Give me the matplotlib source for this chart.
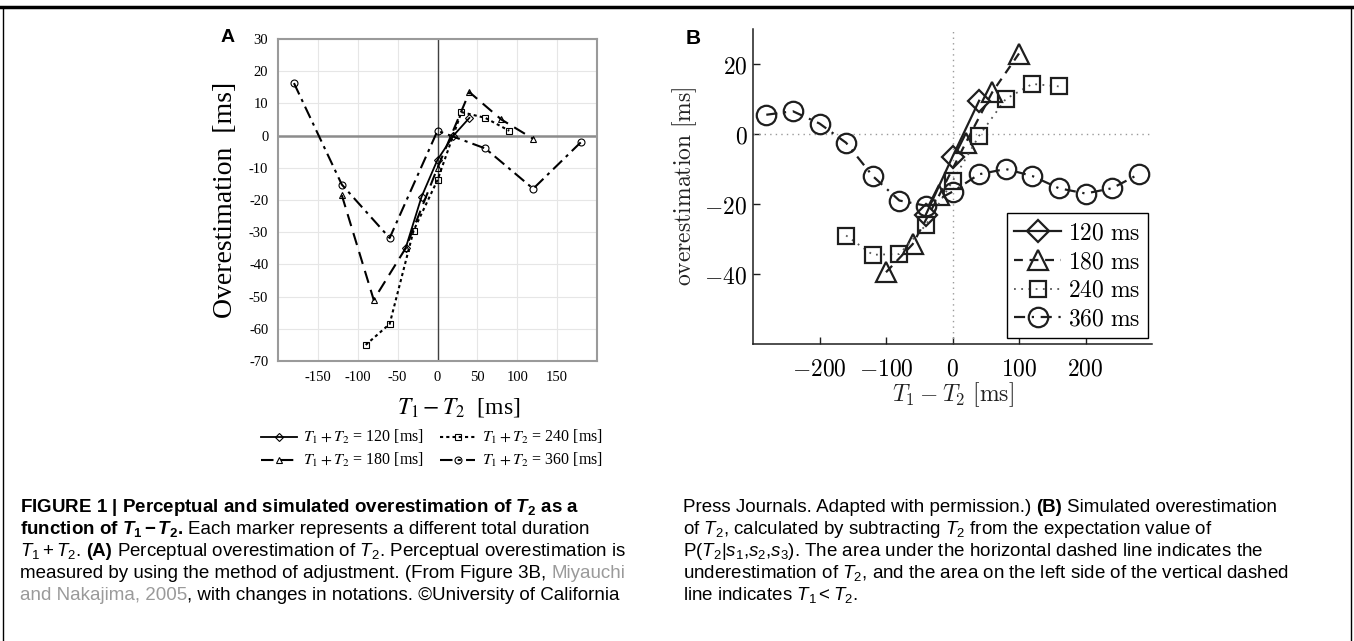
import matplotlib
matplotlib.use('Agg')
import matplotlib.pyplot as plt
from matplotlib.lines import Line2D

# ---- panel A data (perceptual) ----
a_x120 = [-40, -20, 0, 20, 40]
a_y120 = [-35, -19, -7.5, 0, 5.5]
a_x180 = [-120, -80, -40, 0, 40, 80, 120]
a_y180 = [-18.5, -51, -35, -10, 13.5, 5, -1]
a_x240 = [-90, -60, -30, 0, 30, 60, 90]
a_y240 = [-65, -58.5, -29.5, -13.8, 7.3, 5.5, 1.5]
a_x360 = [-180, -120, -60, 0, 60, 120, 180]
a_y360 = [16.3, -15.2, -31.8, 1.5, -4, -16.5, -2]
a_xticks = [-150, -100, -50, 0, 50, 100, 150]
a_xticklabels = ['-150', '-100', '-50', '0', '50', '100', '150']
a_yticks = [30, 20, 10, 0, -10, -20, -30, -40, -50, -60, -70]
a_yticklabels = ['30', '20', '10', '0', '-10', '-20', '-30', '-40', '-50', '-60', '-70']
a_labels = [r'$T_1 + T_2$ = 120 [ms]', r'$T_1 + T_2$ = 180 [ms]',
            r'$T_1 + T_2$ = 240 [ms]', r'$T_1 + T_2$ = 360 [ms]']

# ---- panel B data (simulated) ----
b_x120 = [-40, 0, 40]
b_y120 = [-23, -6.5, 9.5]
b_x180 = [-100, -60, -20, 20, 60, 100]
b_y180 = [-39.5, -31.5, -17.5, -2.5, 12, 23]
b_x240 = [-160, -120, -80, -40, 0, 40, 80, 120, 160]
b_y240 = [-29, -34.5, -34.3, -26, -13.5, -0.5, 10, 14.3, 13.6]
b_x360 = [-280, -240, -200, -160, -120, -80, -40, 0, 40, 80, 120, 160, 200, 240, 280]
b_y360 = [5.5, 6.5, 3, -2.5, -12, -19, -20.5, -16.5, -11.5, -10, -12, -15.5, -17, -15.5, -11.5]
b_xticks = [-200, -100, 0, 100, 200]
b_yticks = [-40, -20, 0, 20]
b_labels = [r'$120\ \mathrm{ms}$', r'$180\ \mathrm{ms}$', r'$240\ \mathrm{ms}$', r'$360\ \mathrm{ms}$']

CAP = ['Liberation Sans', 'DejaVu Sans']
plt.rcParams['mathtext.fontset'] = 'cm'
plt.rcParams['mathtext.rm'] = 'Liberation Sans'
plt.rcParams['mathtext.it'] = 'Liberation Sans:italic'
plt.rcParams['mathtext.bf'] = 'Liberation Sans:bold'
plt.rcParams['mathtext.bfit'] = 'Liberation Sans:italic:bold'

W, H = 1354, 641
fig = plt.figure(figsize=(W / 100, H / 100), dpi=100)


def fx(px):
    return px / W


def fy(py):
    return 1 - py / H


# frame around the figure
fig.add_artist(Line2D([0.0, 1.0], [fy(7), fy(7)], color='black', lw=2.5, transform=fig.transFigure))
fig.add_artist(Line2D([fx(3), fx(3)], [0, fy(7)], color='black', lw=1, transform=fig.transFigure))
fig.add_artist(Line2D([fx(1351), fx(1351)], [0, fy(7)], color='black', lw=1, transform=fig.transFigure))

# ================= panel A =================
axA = fig.add_axes([fx(278), fy(361), fx(597) - fx(278), fy(39) - fy(361)])
axA.plot(a_x120, a_y120, color='black', lw=1.3, marker='D', ms=4, mfc='none', mew=0.8)
axA.plot(a_x180, a_y180, color='black', lw=1.5, ls=(0, (6, 3.5)), marker='^', ms=5, mfc='none', mew=0.8)
axA.plot(a_x240, a_y240, color='black', lw=1.5, ls=(0, (1.5, 1.5)), marker='s', ms=5, mfc='none', mew=0.8)
axA.plot(a_x360, a_y360, color='black', lw=1.5, ls=(0, (6, 2.5, 1.5, 2.5)), marker='o', ms=5, mfc='none', mew=0.8)
axA.set_xlim(-200, 200)
axA.set_ylim(-70, 30)
axA.set_xticks(a_xticks)
axA.set_xticklabels(a_xticklabels, fontsize=10.5, family='Liberation Serif')
axA.set_yticks(a_yticks)
axA.set_yticklabels(a_yticklabels, fontsize=10.5, family='Liberation Serif')
axA.tick_params(length=0, pad=7)
axA.grid(color='#e6e6e6', lw=0.8)
axA.set_axisbelow(True)
for s in axA.spines.values():
    s.set_color('#9a9a9a')
    s.set_linewidth(1.5)
axA.axhline(0, color='#8c8c8c', lw=1.8, zorder=1.5)
axA.axvline(0, color='#404040', lw=1.0, zorder=1.5)
axA.set_ylabel('Overestimation  [ms]', fontsize=20, family='Liberation Serif')
axA.yaxis.set_label_coords(-0.125, 0.5)
xl = axA.set_xlabel(r'$T_1 - T_2$  [ms]', fontsize=17, family='Liberation Serif')
xl.set_math_fontfamily('stix')
axA.xaxis.set_label_coords(0.565, -0.11)

legA = fig.legend(axA.get_lines()[:4], a_labels, ncol=2, loc='upper center',
                  bbox_to_anchor=(fx(432), fy(414)), frameon=False,
                  prop={'family': 'Liberation Serif', 'size': 11.5},
                  handlelength=2.2, columnspacing=1.0, labelspacing=0.3, handletextpad=0.4)
for t in legA.get_texts():
    t.set_math_fontfamily('stix')

# ================= panel B =================
axB = fig.add_axes([fx(753), fy(344), fx(1152) - fx(753), fy(29) - fy(344)])
axB.axhline(0, color='#9a9a9a', lw=1, ls=(0, (1, 3)))
axB.axvline(0, color='#9a9a9a', lw=1, ls=(0, (1, 3)))
ink = '#1e1e1e'
axB.plot(b_x120, b_y120, color=ink, lw=1.6, marker='D', ms=11, mfc='none', mew=1.6)
axB.plot(b_x180, b_y180, color=ink, lw=1.6, ls=(0, (4, 3)), marker='^', ms=15, mfc='none', mew=1.6)
axB.plot(b_x240, b_y240, color='#555555', lw=1.3, ls=(0, (1, 3)), marker='s', ms=11, mfc='none', mew=1.6, mec=ink)
axB.plot(b_x360, b_y360, color=ink, lw=1.6, ls=(0, (5, 3, 1, 3)), marker='o', ms=14, mfc='none', mew=1.6)
axB.set_xlim(-300, 300)
axB.set_ylim(-60, 30)
axB.set_xticks(b_xticks)
axB.set_xticklabels(['$%d$' % v for v in b_xticks], fontsize=17)
axB.set_yticks(b_yticks)
axB.set_yticklabels(['$%d$' % v for v in b_yticks], fontsize=17)
axB.tick_params(direction='in', length=5, width=1, color=ink)
axB.tick_params(axis='x', pad=9)
axB.tick_params(axis='y', pad=4)
axB.spines['top'].set_visible(False)
axB.spines['right'].set_visible(False)
for s in ['left', 'bottom']:
    axB.spines[s].set_color(ink)
    axB.spines[s].set_linewidth(1.1)
axB.set_ylabel(r'$\mathrm{overestimation}\ [\mathrm{ms}]$', fontsize=17, color='#222222')
axB.set_xlabel(r'$T_1 - T_2\ [\mathrm{ms}]$', fontsize=17, color='#222222', labelpad=0)
legB = axB.legend(axB.get_lines()[2:], b_labels, loc='lower right', bbox_to_anchor=(0.99, 0.02),
                  fontsize=17, fancybox=False, edgecolor='black', framealpha=1,
                  handlelength=2.0, handletextpad=0.3, labelspacing=0.2, borderpad=0.3, borderaxespad=0)
legB.get_frame().set_linewidth(1.0)

# panel letters
fig.text(fx(228), fy(38), 'A', fontsize=14, weight='bold', family='Liberation Sans', ha='center', va='center')
fig.text(fx(693), fy(39), 'B', fontsize=15, weight='bold', family='Liberation Sans', ha='center', va='center')

# ================= caption =================
renderer = fig.canvas.get_renderer()
CAP_SIZE = 13.5


def width_of(s, **kw):
    t = fig.text(0, 0, s, **kw)
    w = t.get_window_extent(renderer).width
    t.remove()
    return w / W


def caption_line(x, py, parts):
    for txt, style in parts:
        kw = dict(fontsize=CAP_SIZE, family=CAP, va='baseline')
        if 'b' in style:
            kw['weight'] = 'bold'
        if 'g' in style:
            kw['color'] = '#9a9a9a'
        if txt.startswith(' '):
            x += width_of('x x', **kw) - width_of('xx', **kw)
            txt = txt.lstrip()
        t = fig.text(x, fy(py), txt, **kw)
        t.set_math_fontfamily('custom')
        x += t.get_window_extent(renderer).width / W


left_lines = [
    [(r'FIGURE 1 | Perceptual and simulated overestimation of $\mathbfit{T}_\mathbf{2}$ as a', 'b')],
    [(r'function of $\mathbfit{T}_\mathbf{1}\,\mathbf{-}\,\mathbfit{T}_\mathbf{2}$.', 'b'),
     (' Each marker represents a different total duration', '')],
    [(r'$T_1+T_2$.', ''), (' (A)', 'b'), (r' Perceptual overestimation of $T_2$. Perceptual overestimation is', '')],
    [('measured by using the method of adjustment. (From Figure 3B,', ''), (' Miyauchi', 'g')],
    [('and Nakajima, 2005', 'g'), (', with changes in notations. \u00a9University of California', '')],
]
right_lines = [
    [('Press Journals. Adapted with permission.)', ''), (' (B)', 'b'), (' Simulated overestimation', '')],
    [(r'of $T_2$, calculated by subtracting $T_2$ from the expectation value of', '')],
    [(r'P($T_2|s_1$,$s_2$,$s_3$). The area under the horizontal dashed line indicates the', '')],
    [(r'underestimation of $T_2$, and the area on the left side of the vertical dashed', '')],
    [(r'line indicates $T_1 < T_2$.', '')],
]
for i, parts in enumerate(left_lines):
    caption_line(fx(20), 512 + 22 * i, parts)
for i, parts in enumerate(right_lines):
    caption_line(fx(683), 512 + 22 * i, parts)

fig.savefig('out.png', dpi=100)
